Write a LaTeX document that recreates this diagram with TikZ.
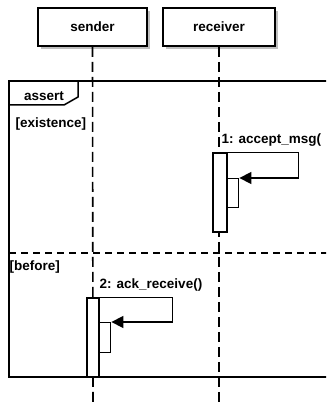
\documentclass[tikz,border=0pt]{standalone}
\usepackage{fontspec}
\setmainfont{Liberation Sans}
\usetikzlibrary{arrows.meta,shadows}
\begin{document}
\begin{tikzpicture}[x=1pt,y=-1pt,line width=1.4pt,
  txt/.style={font=\fontsize{13.5}{16}\selectfont\bfseries, inner sep=1pt},
  objbox/.style={draw, fill=white, line width=1.8pt, minimum height=38pt,
    font=\fontsize{13.5}{16}\selectfont\bfseries,
    drop shadow={shadow xshift=3pt, shadow yshift=-3pt, fill=black!25, opacity=1}},
  lifeline/.style={line width=1.6pt, dash pattern=on 10pt off 5pt},
  actbox/.style={draw, fill=white, line width=1.4pt, inner sep=0pt},
  msg/.style={line width=1.4pt, -{Triangle[length=12pt,width=12pt]}},
  framel/.style={line width=1.5pt},
  sep/.style={line width=1.4pt, dash pattern=on 7pt off 5pt}]
\useasboundingbox (0,0) rectangle (326,406);
\clip (0,0) rectangle (326,406);

% frame
\draw[framel] (340,81) -- (9,81) -- (9,377) -- (340,377);
\draw[framel] (78,81) -- (78,97) -- (64,105) -- (9,105);
\node[txt] (assert) at (44,96) {assert};
\node[txt, anchor=west] (exist) at (14,124) {[existence]};
\draw[sep] (9,253) -- (340,253);
\node[txt, anchor=west] (before) at (8,267) {[before]};

% objects
\node[objbox, minimum width=109pt] (sender) at (92.5,27) {sender};
\node[objbox, minimum width=112pt] (receiver) at (219,27) {receiver};

% lifelines
\coordinate (sbot) at (93,406);
\coordinate (rbot) at (219,406);
\draw[lifeline] (sender.south) -- (sbot);
\draw[lifeline] (receiver.south) -- (rbot);

% receiver activation and self message
\node[actbox, minimum width=14pt, minimum height=79pt] (ra) at (220,192.5) {};
\node[actbox, minimum width=11pt, minimum height=29pt, anchor=north west] (ra2) at (227,178) {};
\draw[msg] (ra.north east) -- ++(71,0) |- (ra2.north east);
\node[txt, anchor=west] (m1) at (220,140) {1: accept\_msg(};

% sender activation and self message
\node[actbox, minimum width=12pt, minimum height=79pt] (sa) at (93,337.5) {};
\node[actbox, minimum width=11pt, minimum height=30pt, anchor=north west] (sa2) at (99,322) {};
\draw[msg] (sa.north east) -- ++(73,0) |- (sa2.north east);
\node[txt, anchor=west] (m2) at (98,285) {2: ack\_receive()};
\end{tikzpicture}
\end{document}
